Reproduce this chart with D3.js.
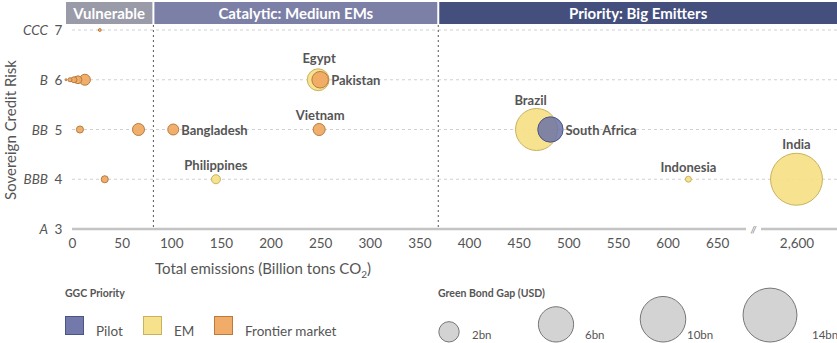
<!DOCTYPE html>
<html>
<head>
<meta charset="utf-8">
<script src="https://cdn.jsdelivr.net/npm/d3@7"></script>
<style>
  html, body { margin: 0; padding: 0; background: #fff; }
  svg { display: block; font-family: Lato, "Open Sans", sans-serif; }
</style>
</head>
<body>
<svg id="chart" width="837" height="343"></svg>
<script>
// Countries: emissions (billion t CO2), credit rating level, green bond gap (USD bn), priority group
const names     = ["", "", "", "", "", "", "", "", "Bangladesh", "", "Philippines", "Egypt", "Pakistan", "Vietnam", "Brazil", "South Africa", "Indonesia", "India"];
const emissions = [28, -6, -2, 2, 6, 13, 8, 67, 102, 33, 145, 248, 250, 249, 468, 482, 621, 2600];
const ratings   = [7, 6, 6, 6, 6, 6, 5, 5, 5, 4, 4, 6, 6, 5, 5, 5, 4, 4];
const gapBn     = [0.04, 0.02, 0.08, 0.17, 0.3, 0.58, 0.24, 0.7, 0.58, 0.24, 0.39, 2.3, 1.32, 0.7, 8.5, 3.1, 0.17, 13.0];
const groups    = ["Frontier market", "Frontier market", "Frontier market", "Frontier market", "Frontier market", "Frontier market", "Frontier market", "Frontier market", "Frontier market", "Frontier market", "EM", "EM", "Frontier market", "Frontier market", "EM", "Pilot", "EM", "EM"];

// Axis ticks and labels
const xTicks      = [0, 50, 100, 150, 200, 250, 300, 350, 400, 450, 500, 550, 600, 650];
const xTicksBreak = [2600];
const yLevels     = [3, 4, 5, 6, 7];
const yRatings    = ["A", "BBB", "BB", "B", "CCC"];

// Bands along the emissions axis
const bandNames  = ["Vulnerable", "Catalytic: Medium EMs", "Priority: Big Emitters"];
const bandBreaks = [82, 369];

// Legend
const legendGroups = ["Pilot", "EM", "Frontier market"];
const legendSizes  = [2, 6, 10, 14];

const fills   = { "Pilot": "#6b72a6", "EM": "#f6df86", "Frontier market": "#f0a862" };
const strokes = { "Pilot": "#4c5486", "EM": "#c8b25e", "Frontier market": "#b97a3e" };

const svg = d3.select("#chart");

const x = d3.scaleLinear().domain([0, 675]).range([72, 742]);
const xB = d3.scaleLinear().domain([2550, 2650]).range([747, 846]);
const xv = v => v > 1000 ? xB(v) : x(v);
const y = d3.scaleLinear().domain([3, 7]).range([229, 30]);
const r = d3.scaleSqrt().domain([0, 1]).range([0, 7.2]);

// header bands
const bandEdges = [66, x(bandBreaks[0]), x(bandBreaks[1]), 837];
const bandFill = ["#9a9ba9", "#7d80a6", "#444f7e"];
bandNames.forEach((n, i) => {
  const x0 = bandEdges[i] + (i ? 1 : 0), x1 = bandEdges[i + 1] - (i < 2 ? 1 : 0);
  svg.append("rect").attr("x", x0).attr("y", 2).attr("width", x1 - x0).attr("height", 22)
    .attr("fill", bandFill[i]);
  svg.append("text").attr("x", (x0 + x1) / 2).attr("y", 19).attr("text-anchor", "middle")
    .attr("fill", "#fff").attr("font-weight", 700).attr("font-size", 15).text(n);
});

// gridlines
svg.append("g").selectAll("line").data(yLevels.filter(d => d > 3)).join("line")
  .attr("x1", 72).attr("x2", 837).attr("y1", d => y(d)).attr("y2", d => y(d))
  .attr("stroke", "#d0d0d0").attr("stroke-width", 1).attr("stroke-dasharray", "3,3");

// band separators
svg.append("g").selectAll("line").data(bandBreaks).join("line")
  .attr("x1", d => x(d)).attr("x2", d => x(d)).attr("y1", 25).attr("y2", 229)
  .attr("stroke", "#555").attr("stroke-width", 1).attr("stroke-dasharray", "2,3");

// x axis (broken)
const axisG = svg.append("g").attr("transform", "translate(0,229)");
const xAxis = d3.axisBottom(x).tickValues(xTicks).tickSize(0).tickPadding(9);
const gA = axisG.append("g").call(xAxis);
gA.select(".domain").attr("d", "M72,0H746").attr("stroke", "#c4c4c4").attr("stroke-width", 2.5);
const xAxisB = d3.axisBottom(xB).tickValues(xTicksBreak).tickSize(0).tickPadding(9).tickFormat(d3.format(","));
const gB = axisG.append("g").call(xAxisB);
gB.select(".domain").attr("d", "M761,0H837").attr("stroke", "#c4c4c4").attr("stroke-width", 2.5);
axisG.selectAll(".tick text").attr("font-family", "Lato, sans-serif").attr("font-size", 13.5).attr("fill", "#555");
axisG.append("text").attr("x", 753.5).attr("y", 3.5).attr("text-anchor", "middle")
  .attr("font-size", 9).attr("font-style", "italic").attr("fill", "#777").text("//");

// y axis labels
const yG = svg.append("g");
yLevels.forEach((lv, i) => {
  yG.append("text").attr("x", 48).attr("y", y(lv) + 5).attr("text-anchor", "end")
    .attr("font-style", "italic").attr("font-size", 13.5).attr("fill", "#555").text(yRatings[i]);
  yG.append("text").attr("x", 58.5).attr("y", y(lv) + 5).attr("text-anchor", "middle")
    .attr("font-size", 13.5).attr("fill", "#555").text(lv);
});

// axis titles
svg.append("text").attr("transform", "translate(16,130) rotate(-90)").attr("text-anchor", "middle")
  .attr("font-size", 15).attr("fill", "#555").text("Sovereign Credit Risk");
const xt = svg.append("text").attr("x", 263).attr("y", 274).attr("text-anchor", "middle")
  .attr("font-size", 15).attr("fill", "#555");
xt.append("tspan").text("Total emissions (Billion tons CO");
xt.append("tspan").attr("font-size", 10).attr("dy", 4).text("2");
xt.append("tspan").attr("dy", -4).text(")");

// bubbles (larger first so smaller ones stay visible)
const pts = names.map((n, i) => ({ n, e: emissions[i], lv: ratings[i], g: gapBn[i], grp: groups[i] }));
const order = pts.slice().sort((a, b) => b.g - a.g);
svg.append("g").selectAll("circle").data(order).join("circle")
  .attr("cx", d => xv(d.e)).attr("cy", d => y(d.lv)).attr("r", d => r(d.g))
  .attr("fill", d => fills[d.grp]).attr("fill-opacity", d => d.grp === "Pilot" ? 0.85 : 0.92)
  .attr("stroke", d => strokes[d.grp]).attr("stroke-width", 1);

// country labels
const labelPos = {
  "Bangladesh":   { dx: 8,  dy: 5, a: "start" },
  "Philippines":  { dx: 0,  dy: -9, a: "middle" },
  "Egypt":        { dx: 1,  dy: -17, a: "middle" },
  "Pakistan":     { dx: 11, dy: 5, a: "start" },
  "Vietnam":      { dx: 1,  dy: -10, a: "middle" },
  "Brazil":       { dx: -6, dy: -25, a: "middle" },
  "South Africa": { dx: 15, dy: 5, a: "start" },
  "Indonesia":    { dx: 0,  dy: -7, a: "middle" },
  "India":        { dx: 0,  dy: -30, a: "middle" }
};
svg.append("g").selectAll("text").data(pts.filter(d => d.n)).join("text")
  .attr("x", d => xv(d.e) + labelPos[d.n].dx).attr("y", d => y(d.lv) + labelPos[d.n].dy)
  .attr("text-anchor", d => labelPos[d.n].a)
  .attr("font-size", 13).attr("font-weight", 700).attr("fill", "#555").text(d => d.n);

// legend: priority
svg.append("text").attr("x", 65).attr("y", 297).attr("font-size", 10.5).attr("font-weight", 700)
  .attr("fill", "#555").text("GGC Priority");
const lgX = [65, 143, 214];
legendGroups.forEach((g, i) => {
  svg.append("rect").attr("x", lgX[i] + 0.5).attr("y", 316.5).attr("width", 18).attr("height", 18)
    .attr("fill", fills[g]).attr("stroke", strokes[g]).attr("stroke-width", 1).attr("fill-opacity", 0.95);
  svg.append("text").attr("x", lgX[i] + 31).attr("y", 336).attr("font-size", 13.5).attr("fill", "#555").text(g);
});

// legend: size
svg.append("text").attr("x", 438).attr("y", 297).attr("font-size", 10.5).attr("font-weight", 700)
  .attr("fill", "#555").text("Green Bond Gap (USD)");
const lsX = [449, 556, 663, 770];
const lsT = [472, 585, 687, 812];
legendSizes.forEach((s, i) => {
  svg.append("circle").attr("cx", lsX[i]).attr("cy", 342 - r(s)).attr("r", r(s))
    .attr("fill", "#d3d3d3").attr("stroke", "#777").attr("stroke-width", 1);
  svg.append("text").attr("x", lsT[i]).attr("y", 339).attr("font-size", 11.5).attr("fill", "#555").text(s + "bn");
});
</script>
</body>
</html>
